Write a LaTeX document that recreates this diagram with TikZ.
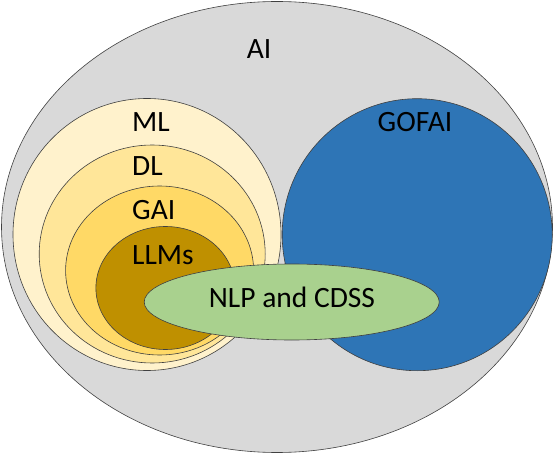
\documentclass[tikz,border=0pt]{standalone}
\usepackage{fontspec}
\setmainfont{Carlito}
\usepackage{tikz}
\usetikzlibrary{shapes.geometric}

\definecolor{aigray}{HTML}{D9D9D9}
\definecolor{mlfill}{HTML}{FFF2CC}
\definecolor{dlfill}{HTML}{FFE699}
\definecolor{gaifill}{HTML}{FFD966}
\definecolor{llmfill}{HTML}{BF9000}
\definecolor{gofaiblue}{HTML}{2E75B6}
\definecolor{nlpgreen}{HTML}{A9D18E}

\begin{document}
\begin{tikzpicture}[
  x=1pt,y=-1pt,
  font=\fontsize{29.5}{35}\selectfont,
  set/.style={ellipse,draw=black!75,line width=0.6pt,inner sep=0pt},
  lbl/.style={inner sep=0pt,anchor=base},
  lbll/.style={inner sep=0pt,anchor=base west}]

 \useasboundingbox (0,0) rectangle (554,454);

 % ---- outer set ----
 \node[set,fill=aigray,minimum width=551pt,minimum height=451pt] (ai) at (277,227) {};

 % ---- nested learning sets ----
 \node[set,fill=mlfill,minimum width=268pt,minimum height=272pt] (ml) at (147,234.5) {};
 \node[set,fill=dlfill,minimum width=226pt,minimum height=218pt] (dl) at (152.2,254) {};
 \node[set,fill=gaifill,minimum width=188pt,minimum height=169pt] (gai) at (159.6,270.5) {};
 \node[set,fill=llmfill,minimum width=139pt,minimum height=123pt] (llm) at (165.4,288) {};

 % ---- symbolic set and overlap ----
 \node[set,fill=gofaiblue,minimum width=270pt,minimum height=272pt] (gofai) at (417.2,234.7) {};
 \node[set,fill=nlpgreen,minimum width=295pt,minimum height=76pt] (nlp) at (291.7,302) {};

 % ---- labels ----
 \node[lbl] (ailab) at (259,58.3) {AI};
 \node[lbll] (mllab) at (132,131.7) {ML};
 \node[lbll] (dllab) at (132,176) {DL};
 \node[lbll] (gailab) at (132,220) {GAI};
 \node[lbll] (llmlab) at (132,265) {LLMs};
 \node[lbl] (gofailab) at (415,131.7) {GOFAI};
 \node[lbl] (nlplab) at (292,308) {NLP and CDSS};
\end{tikzpicture}
\end{document}
